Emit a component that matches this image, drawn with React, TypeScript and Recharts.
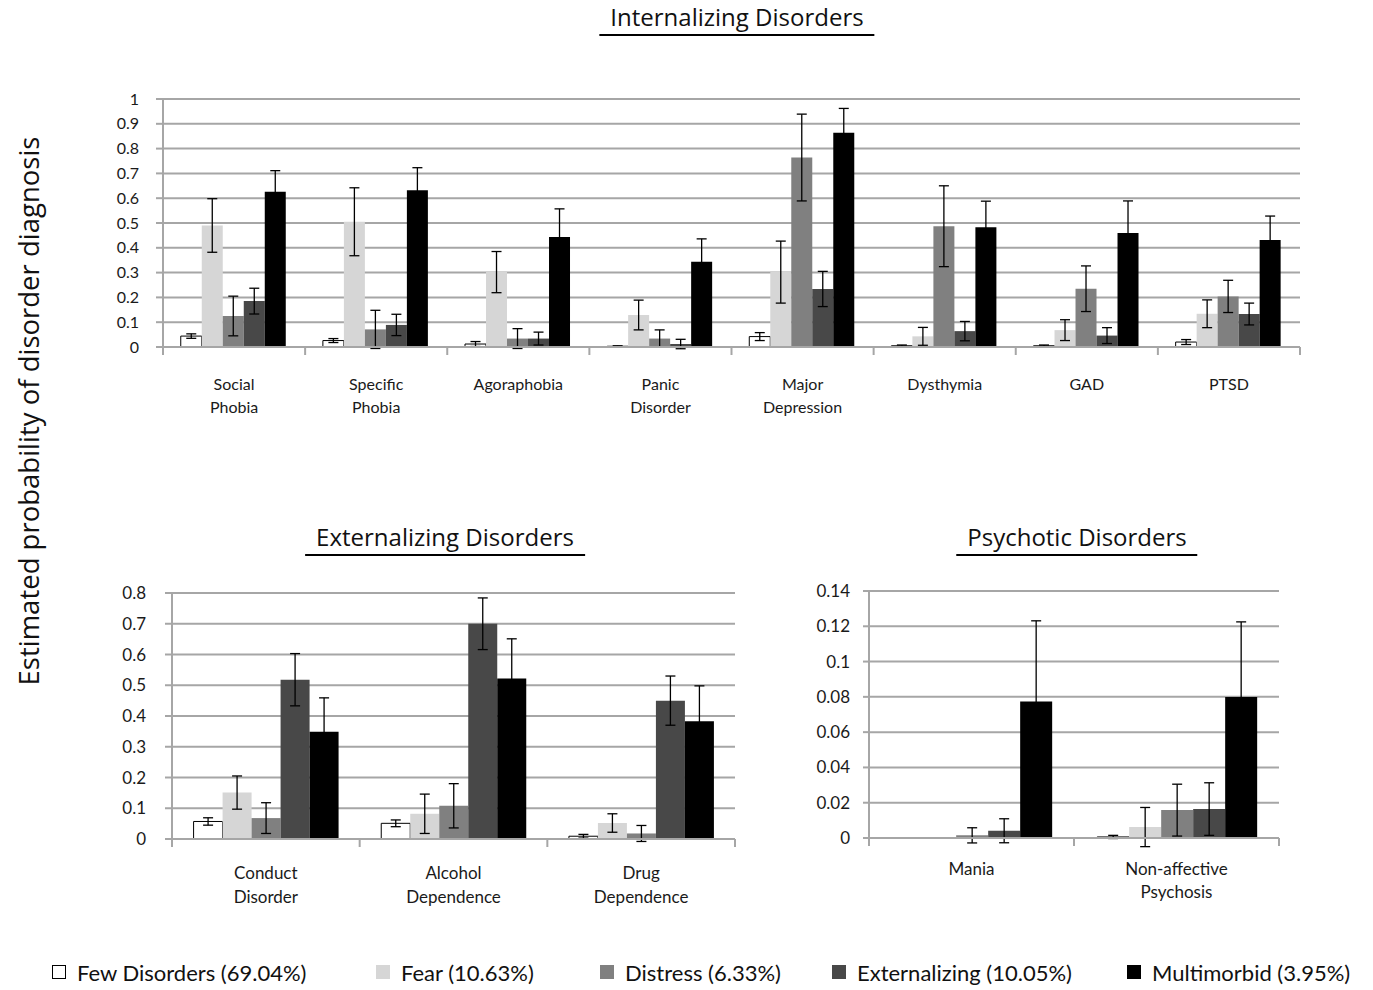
import { Bar, BarChart, CartesianGrid, ErrorBar, XAxis, YAxis } from 'recharts'

const SERIES_KEYS = ['few', 'fear', 'distress', 'ext', 'multi']
const SERIES_NAMES = [
  'Few Disorders (69.04%)',
  'Fear (10.63%)',
  'Distress (6.33%)',
  'Externalizing (10.05%)',
  'Multimorbid (3.95%)',
]
const SERIES_COLORS = ['#ffffff', '#d6d6d6', '#808080', '#484848', '#000000']

// Internalizing
const intCategories = [
  'Social\nPhobia',
  'Specific\nPhobia',
  'Agoraphobia',
  'Panic\nDisorder',
  'Major\nDepression',
  'Dysthymia',
  'GAD',
  'PTSD',
]
const intFew = [0.044, 0.026, 0.012, 0.003, 0.042, 0.005, 0.005, 0.02]
const intFear = [0.49, 0.505, 0.302, 0.129, 0.302, 0.043, 0.068, 0.134]
const intDistress = [0.125, 0.071, 0.034, 0.034, 0.764, 0.487, 0.235, 0.204]
const intExt = [0.185, 0.089, 0.034, 0.012, 0.234, 0.064, 0.046, 0.133]
const intMulti = [0.626, 0.632, 0.444, 0.344, 0.864, 0.483, 0.46, 0.431]
const intFewErr = [0.009, 0.008, 0.01, 0.002, 0.016, 0.003, 0.003, 0.01]
const intFearErr = [0.108, 0.137, 0.083, 0.06, 0.125, 0.036, 0.042, 0.056]
const intDistressErr = [0.08, 0.077, 0.04, 0.035, 0.175, 0.163, 0.092, 0.065]
const intExtErr = [0.052, 0.043, 0.026, 0.019, 0.071, 0.039, 0.032, 0.044]
const intMultiErr = [0.085, 0.091, 0.113, 0.092, 0.098, 0.105, 0.129, 0.097]
const intTicks = [0, 0.1, 0.2, 0.3, 0.4, 0.5, 0.6, 0.7, 0.8, 0.9, 1]

// Externalizing
const extCategories = ['Conduct\nDisorder', 'Alcohol\nDependence', 'Drug\nDependence']
const extFew = [0.057, 0.051, 0.009]
const extFear = [0.151, 0.082, 0.052]
const extDistress = [0.068, 0.108, 0.018]
const extExt = [0.518, 0.7, 0.45]
const extMulti = [0.349, 0.522, 0.383]
const extFewErr = [0.012, 0.011, 0.006]
const extFearErr = [0.054, 0.064, 0.03]
const extDistressErr = [0.05, 0.072, 0.026]
const extExtErr = [0.085, 0.084, 0.08]
const extMultiErr = [0.11, 0.129, 0.115]
const extTicks = [0, 0.1, 0.2, 0.3, 0.4, 0.5, 0.6, 0.7, 0.8]

// Psychotic
const psyCategories = ['Mania', 'Non-affective\nPsychosis']
const psyFew = [0, 0.0006]
const psyFear = [0, 0.0062]
const psyDistress = [0.0015, 0.0158]
const psyExt = [0.0041, 0.0164]
const psyMulti = [0.0773, 0.0799]
const psyFewErr = [null, 0.0009]
const psyFearErr = [null, 0.0111]
const psyDistressErr = [0.0043, 0.0147]
const psyExtErr = [0.0068, 0.0149]
const psyMultiErr = [0.0458, 0.0426]
const psyTicks = [0, 0.02, 0.04, 0.06, 0.08, 0.1, 0.12, 0.14]

const AXIS = '#a6a6a6'
const LABEL_FONT = 'Lato, "Open Sans", sans-serif'
const TITLE_FONT = '"Open Sans", "Noto Sans", sans-serif'

function buildRows(
  categories: string[],
  values: number[][],
  errors: (number | null)[][],
) {
  return categories.map((name, i) => {
    const row: Record<string, unknown> = { name }
    SERIES_KEYS.forEach((k, s) => {
      row[k] = values[s][i]
      row[k + 'Err'] = errors[s][i]
    })
    return row
  })
}

const intRows = buildRows(
  intCategories,
  [intFew, intFear, intDistress, intExt, intMulti],
  [intFewErr, intFearErr, intDistressErr, intExtErr, intMultiErr],
)
const extRows = buildRows(
  extCategories,
  [extFew, extFear, extDistress, extExt, extMulti],
  [extFewErr, extFearErr, extDistressErr, extExtErr, extMultiErr],
)
const psyRows = buildRows(
  psyCategories,
  [psyFew, psyFear, psyDistress, psyExt, psyMulti],
  [psyFewErr, psyFearErr, psyDistressErr, psyExtErr, psyMultiErr],
)

function CatTick(props: any) {
  const { x, y, payload, index, band, count, fontSize, firstDy, lineGap } = props
  const lines = String(payload.value).split('\n')
  const half = band / 2
  return (
    <g>
      <line x1={x - half} x2={x - half} y1={y} y2={y + 8} stroke={AXIS} strokeWidth={2} />
      {index === count - 1 && (
        <line x1={x + half} x2={x + half} y1={y} y2={y + 8} stroke={AXIS} strokeWidth={2} />
      )}
      <text
        x={x}
        y={y + firstDy}
        textAnchor="middle"
        fill="#1a1a1a"
        fontSize={fontSize}
        fontFamily={LABEL_FONT}
      >
        {lines.map((l, i) => (
          <tspan key={i} x={x} dy={i === 0 ? 0 : lineGap}>
            {l}
          </tspan>
        ))}
      </text>
    </g>
  )
}

type PanelProps = {
  rows: Record<string, unknown>[]
  ticks: number[]
  left: number
  top: number
  width: number
  height: number
  marginTop: number
  yWidth: number
  xHeight: number
  tickSize: number
  tickMargin: number
  fontSize: number
  firstDy: number
  lineGap: number
  gap: string
}

function Panel(p: PanelProps) {
  const marginRight = 20
  const band = (p.width - marginRight - p.yWidth) / p.rows.length
  return (
    <div style={{ position: 'absolute', left: p.left, top: p.top }}>
      <BarChart
        width={p.width}
        height={p.height}
        data={p.rows}
        margin={{ top: p.marginTop, right: marginRight, left: 0, bottom: 0 }}
        barCategoryGap={p.gap}
        barGap={0}
      >
        <CartesianGrid vertical={false} stroke={AXIS} strokeWidth={2} />
        <XAxis
          dataKey="name"
          interval={0}
          height={p.xHeight}
          tickLine={false}
          tickSize={0}
          tickMargin={0}
          axisLine={{ stroke: AXIS, strokeWidth: 2 }}
          tick={(tp: any) => (
            <CatTick
              {...tp}
              band={band}
              count={p.rows.length}
              fontSize={p.fontSize}
              firstDy={p.firstDy}
              lineGap={p.lineGap}
            />
          )}
        />
        <YAxis
          width={p.yWidth}
          domain={[p.ticks[0], p.ticks[p.ticks.length - 1]]}
          allowDataOverflow
          ticks={p.ticks}
          interval={0}
          tickSize={p.tickSize}
          tickMargin={p.tickMargin}
          axisLine={{ stroke: AXIS, strokeWidth: 2 }}
          tickLine={{ stroke: AXIS, strokeWidth: 2 }}
          tick={{ fill: '#1a1a1a', fontSize: p.fontSize, fontFamily: LABEL_FONT }}
        />
        {SERIES_KEYS.map((k, s) => (
          <Bar
            key={k}
            dataKey={k}
            fill={SERIES_COLORS[s]}
            stroke={s === 0 ? '#000' : 'none'}
            strokeWidth={s === 0 ? 1 : 0}
            isAnimationActive={false}
          >
            <ErrorBar dataKey={k + 'Err'} width={5} stroke="#000" strokeWidth={1.3} />
          </Bar>
        ))}
      </BarChart>
    </div>
  )
}

function Title({ text, cx, top }: { text: string; cx: number; top: number }) {
  return (
    <div
      style={{
        position: 'absolute',
        left: cx,
        top,
        transform: 'translateX(-50%)',
        whiteSpace: 'nowrap',
        fontFamily: TITLE_FONT,
        fontSize: 24,
        lineHeight: '34px',
        color: '#111',
        padding: '0 11px',
        borderBottom: '2px solid #000',
      }}
    >
      {text}
    </div>
  )
}

const LEGEND_X = [52, 376, 600, 832, 1127]

export default function App() {
  return (
    <div
      style={{
        position: 'absolute',
        left: 0,
        top: 0,
        width: 1373,
        height: 990,
        background: '#fff',
        overflow: 'hidden',
      }}
    >
      <Title text="Internalizing Disorders" cx={737} top={0} />
      <Title text="Externalizing Disorders" cx={445} top={520} />
      <Title text="Psychotic Disorders" cx={1077} top={520} />

      <div
        style={{
          position: 'absolute',
          left: 28,
          top: 411,
          transform: 'translate(-50%, -50%) rotate(-90deg)',
          whiteSpace: 'nowrap',
          fontFamily: TITLE_FONT,
          fontSize: 27.5,
          color: '#111',
        }}
      >
        Estimated probability of disorder diagnosis
      </div>

      <Panel
        rows={intRows}
        ticks={intTicks}
        left={100}
        top={80}
        width={1220}
        height={360}
        marginTop={19}
        yWidth={63}
        xHeight={93}
        tickSize={7}
        tickMargin={17}
        fontSize={16}
        firstDy={43}
        lineGap={23}
        gap="12.5%"
      />
      <Panel
        rows={extRows}
        ticks={extTicks}
        left={110}
        top={575}
        width={645}
        height={354}
        marginTop={18}
        yWidth={62}
        xHeight={90}
        tickSize={7}
        tickMargin={19}
        fontSize={17}
        firstDy={40}
        lineGap={24}
        gap="11.5%"
      />
      <Panel
        rows={psyRows}
        ticks={psyTicks}
        left={800}
        top={575}
        width={499}
        height={354}
        marginTop={16}
        yWidth={69}
        xHeight={91}
        tickSize={6}
        tickMargin={13}
        fontSize={17}
        firstDy={37}
        lineGap={23}
        gap="11.3%"
      />

      {SERIES_NAMES.map((name, s) => (
        <div
          key={name}
          style={{
            position: 'absolute',
            left: LEGEND_X[s],
            top: 959,
            height: 26,
            display: 'flex',
            alignItems: 'center',
            whiteSpace: 'nowrap',
            fontFamily: LABEL_FONT,
            fontSize: 22,
            color: '#111',
          }}
        >
          <span
            style={{
              display: 'inline-block',
              width: 14,
              height: 14,
              boxSizing: 'border-box',
              background: SERIES_COLORS[s],
              border: s === 0 ? '1px solid #000' : 'none',
              marginRight: 11,
            }}
          />
          {name}
        </div>
      ))}
    </div>
  )
}
